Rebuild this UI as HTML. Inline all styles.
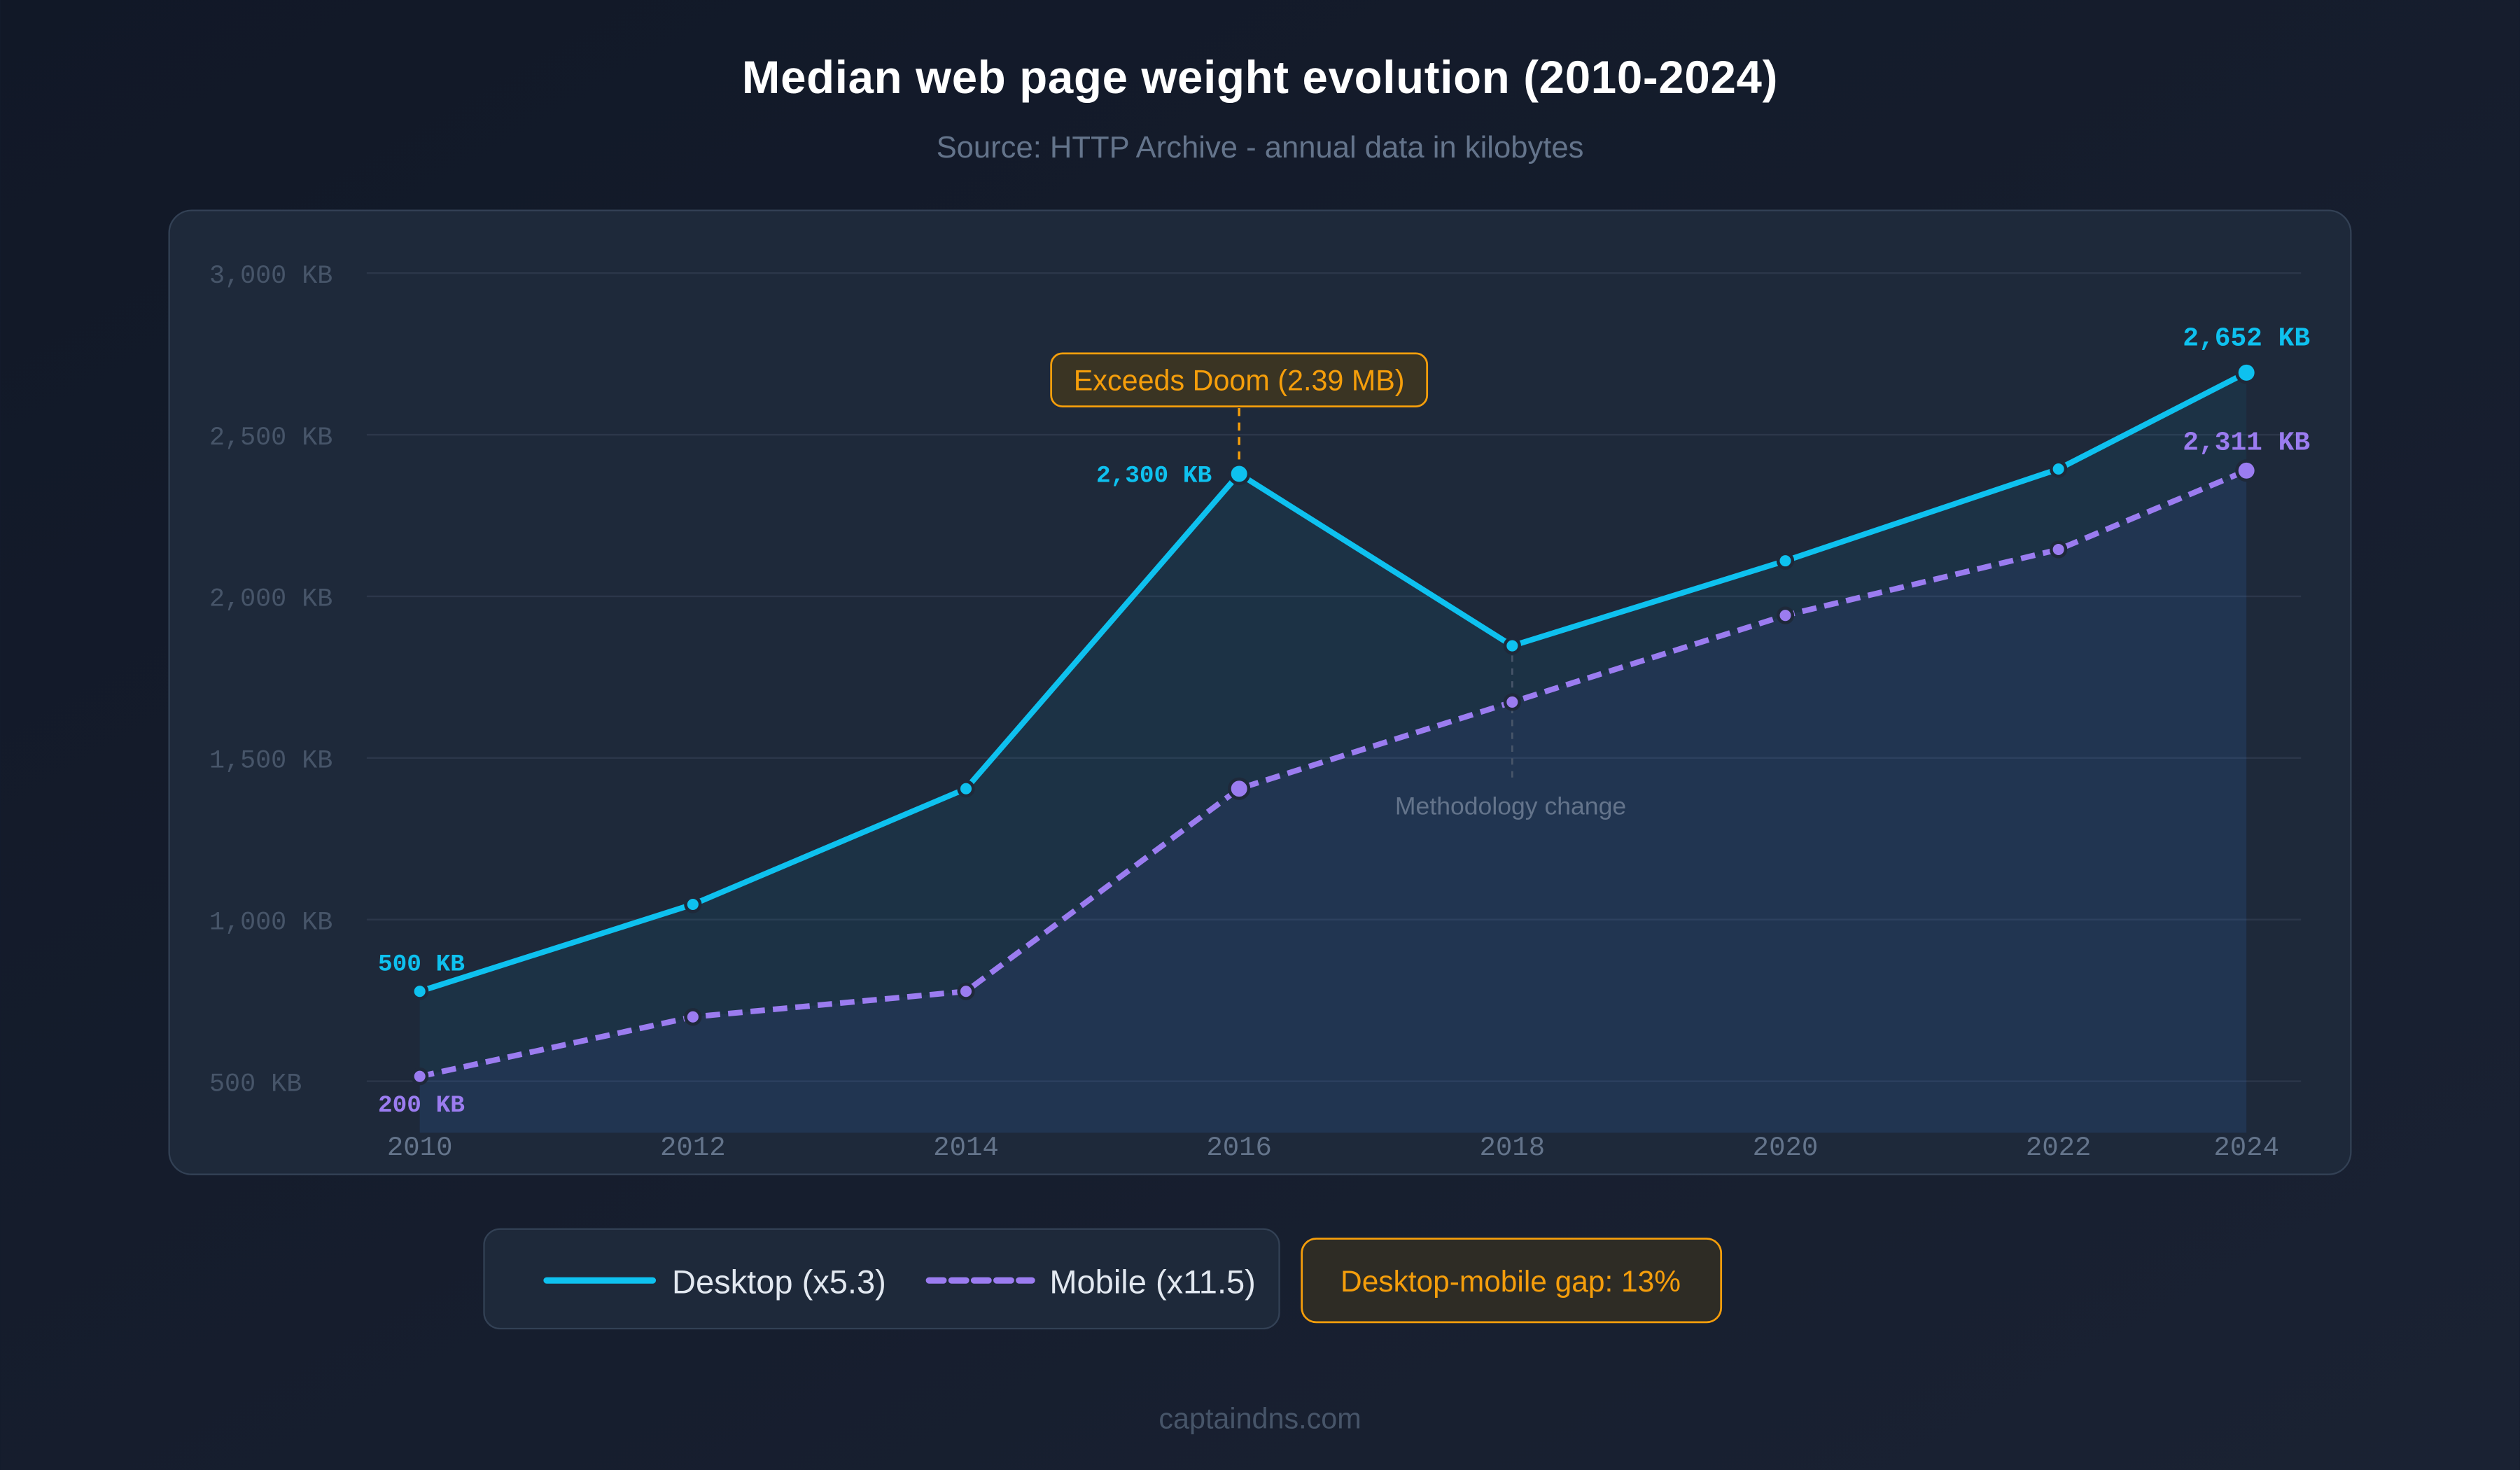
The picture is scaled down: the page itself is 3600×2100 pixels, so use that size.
<!DOCTYPE html>
<html><head><meta charset="utf-8"><style>
html,body{margin:0;padding:0;background:#131b2c;}
svg{display:block;}
.sans{font-family:"Liberation Sans",sans-serif;}
.mono{font-family:"Liberation Mono","DejaVu Sans Mono",monospace;}
</style></head><body>
<svg id="chart" width="3600" height="2100" viewBox="0 0 1568 915" xmlns="http://www.w3.org/2000/svg">
<defs>
<linearGradient id="bg" x1="0" y1="0" x2="1" y2="1"><stop offset="0" stop-color="#111827"/><stop offset="1" stop-color="#1a2233"/></linearGradient>
</defs>
<rect x="0" y="0" width="1568" height="915" fill="url(#bg)"/>
<text class="sans" x="784" y="58" text-anchor="middle" font-size="28.5" font-weight="bold" fill="#ffffff" letter-spacing="0.3">Median web page weight evolution (2010-2024)</text>
<text class="sans" x="784" y="98" text-anchor="middle" font-size="19" fill="#64748b">Source: HTTP Archive - annual data in kilobytes</text>
<rect x="105" y="131" width="1358" height="600" rx="14" fill="#1e293a" stroke="#334155" stroke-width="1"/>
<g id="grid"></g>
<g id="areas"></g>
<g id="lines"></g>
<g id="marks"></g>
<g id="labels"></g>
<g>
<rect x="654" y="220" width="234" height="33" rx="7" fill="#3a3423" stroke="#f59e0b" stroke-width="1.2"/>
<text class="sans" x="771" y="243" text-anchor="middle" font-size="18" fill="#f59e0b">Exceeds Doom (2.39 MB)</text>
</g>
<text class="sans" x="940" y="507" text-anchor="middle" font-size="15.5" fill="#64748b">Methodology change</text>
<g>
<rect x="301" y="765" width="495" height="62" rx="10" fill="#1e293a" stroke="#334155"/>
<line x1="340" y1="797" x2="406" y2="797" stroke="#0ec1ef" stroke-width="4" stroke-linecap="round"/>
<text class="sans" x="418" y="805" font-size="20.5" fill="#e2e8f0">Desktop (x5.3)</text>
<line x1="578" y1="797" x2="642" y2="797" stroke="#9b7cf0" stroke-width="4" stroke-dasharray="9 5" stroke-linecap="round"/>
<text class="sans" x="653" y="805" font-size="20.5" fill="#e2e8f0">Mobile (x11.5)</text>
</g>
<g>
<rect x="810" y="771" width="261" height="52" rx="9" fill="#2e2c25" stroke="#f59e0b" stroke-width="1.2"/>
<text class="sans" x="940" y="804" text-anchor="middle" font-size="18.5" fill="#f59e0b">Desktop-mobile gap: 13%</text>
</g>
<text class="sans" x="784" y="889" text-anchor="middle" font-size="18" fill="#475569">captaindns.com</text>
</svg>
<script>
const years = [2010, 2012, 2014, 2016, 2018, 2020, 2022, 2024];
const desktop = [778, 1047, 1405, 2379, 1847, 2110, 2394, 2692];
const mobile = [515, 699, 778, 1405, 1673, 1941, 2145, 2389];
const yTicks = [500, 1000, 1500, 2000, 2500, 3000];
const yTickLabels = ["500 KB", "1,000 KB", "1,500 KB", "2,000 KB", "2,500 KB", "3,000 KB"];
const desktopLabels = {0: "500 KB", 3: "2,300 KB", 7: "2,652 KB"};
const mobileLabels = {0: "200 KB", 7: "2,311 KB"};

const NS = "http://www.w3.org/2000/svg";
const plotL = 228, plotR = 1432, plotB = 705;
function y(v){ return 673 - (v - 500) * (503 / 2500); }
function x(i){ const p = 261 + i * 170; return i === years.length - 1 ? Math.min(p, 1398) : p; }
function mk(tag, attrs, parent){ const e = document.createElementNS(NS, tag); for (const k in attrs) e.setAttribute(k, attrs[k]); parent.appendChild(e); return e; }

const grid = document.getElementById('grid');
yTicks.forEach((t, i) => {
  const l = mk('line', {x1: plotL, x2: plotR, y1: y(t), y2: y(t), stroke: '#2c374a', 'stroke-width': 1}, grid);
  
  
  const tx = mk('text', {x: 130, y: y(t) + 6, 'font-size': 16, fill: '#475569', class: 'mono'}, grid);
  tx.textContent = yTickLabels[i];
  
  
});
years.forEach((yr, i) => {
  const tx = mk('text', {x: x(i), y: 719, 'font-size': 17, fill: '#64748b', 'text-anchor': 'middle', class: 'mono'}, grid);
  tx.textContent = yr;
  
  
});

function pts(arr){ return arr.map((v, i) => x(i) + ',' + y(v)).join(' '); }
function areaPts(arr){ return x(0) + ',' + plotB + ' ' + pts(arr) + ' ' + x(arr.length - 1) + ',' + plotB; }
const areas = document.getElementById('areas');
const a1 = mk('polygon', {points: areaPts(desktop), fill: '#0ea5e9', 'fill-opacity': 0.07}, areas);


const a2 = mk('polygon', {points: areaPts(mobile), fill: '#6366f1', 'fill-opacity': 0.07}, areas);



const lines = document.getElementById('lines');
const ld = mk('line', {x1: x(3), x2: x(3), y1: 254, y2: y(desktop[3]) - 6, stroke: '#f59e0b', 'stroke-width': 1.5, 'stroke-dasharray': '5 4'}, lines);


const lm = mk('line', {x1: x(4), x2: x(4), y1: y(desktop[4]) + 6, y2: 484, stroke: '#475569', 'stroke-width': 1.2, 'stroke-dasharray': '4 4'}, lines);



const l1 = mk('polyline', {points: pts(desktop), fill: 'none', stroke: '#0ec1ef', 'stroke-width': 3.5, 'stroke-linejoin': 'round'}, lines);


const l2 = mk('polyline', {points: pts(mobile), fill: 'none', stroke: '#9b7cf0', 'stroke-width': 3.5, 'stroke-dasharray': '9 5', 'stroke-linejoin': 'round'}, lines);



const marks = document.getElementById('marks');
desktop.forEach((v, i) => {
  const big = (i === 3 || i === 7);
  const c = mk('circle', {cx: x(i), cy: y(v), r: big ? 6 : 4.5, fill: '#0ec1ef', stroke: '#1e293a', 'stroke-width': 2}, marks);
  
  
});
mobile.forEach((v, i) => {
  const big = (i === 3 || i === 7);
  const c = mk('circle', {cx: x(i), cy: y(v), r: big ? 6 : 4.5, fill: '#9b7cf0', stroke: '#1e293a', 'stroke-width': 2}, marks);
  
  
});

const labels = document.getElementById('labels');
function lab(txt, xx, yy, anchor, color, name, fs){
  const t = mk('text', {x: xx, y: yy, 'text-anchor': anchor, 'font-size': fs, 'font-weight': 'bold', fill: color, class: 'mono'}, labels);
  t.textContent = txt;
  
  
}
for (const k in desktopLabels){
  const i = +k;
  if (i === 3) lab(desktopLabels[k], x(i) - 17, y(desktop[i]) + 5, 'end', '#0ec1ef', 'desktop-value-label', 15);
  else if (i === 0) lab(desktopLabels[k], x(i) - 26, y(desktop[i]) - 13, 'start', '#0ec1ef', 'desktop-value-label', 15);
  else lab(desktopLabels[k], x(i), y(desktop[i]) - 17, 'middle', '#0ec1ef', 'desktop-value-label', 16.5);
}
for (const k in mobileLabels){
  const i = +k;
  if (i === 0) lab(mobileLabels[k], x(i) - 26, y(mobile[i]) + 22, 'start', '#9b7cf0', 'mobile-value-label', 15);
  else lab(mobileLabels[k], x(i), y(mobile[i]) - 13, 'middle', '#9b7cf0', 'mobile-value-label', 16.5);
}
</script>
</body></html>
